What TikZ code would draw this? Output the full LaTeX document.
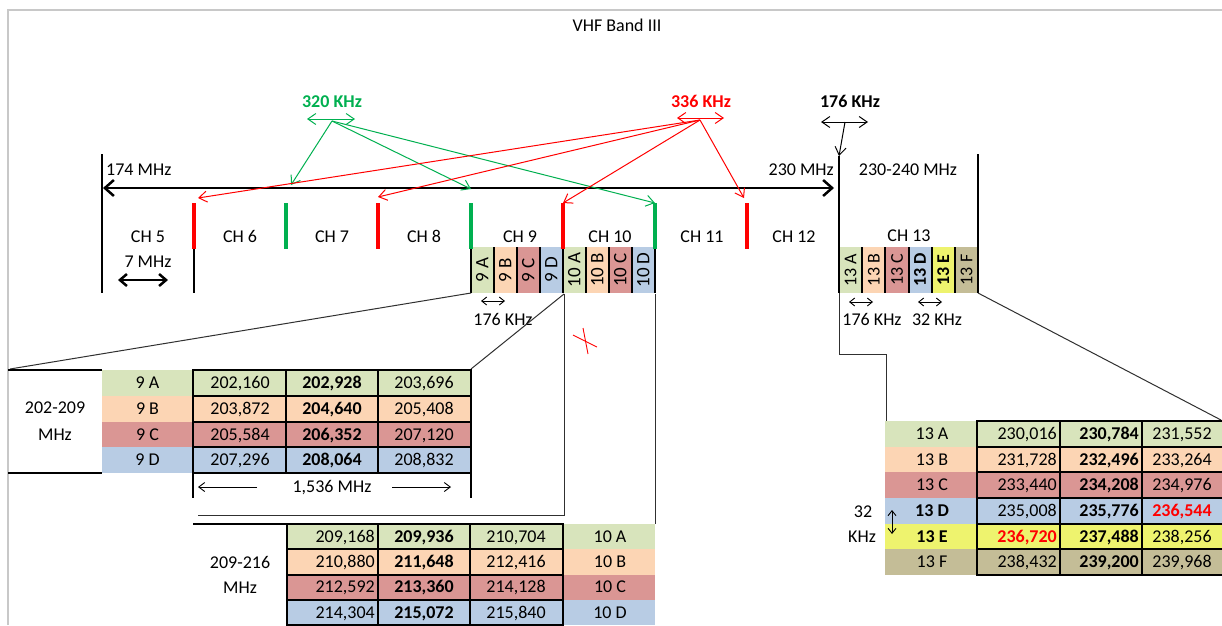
\documentclass[tikz,border=0pt]{standalone}
\usepackage{fontspec}
\setmainfont{Carlito}
\usetikzlibrary{arrows.meta}
\definecolor{cA}{HTML}{D8E4BC}
\definecolor{cB}{HTML}{FCD5B4}
\definecolor{cC}{HTML}{DA9694}
\definecolor{cD}{HTML}{B8CCE4}
\definecolor{cE}{HTML}{EEF36E}
\definecolor{cF}{HTML}{C4BD97}
\definecolor{xgreen}{HTML}{00B050}
\definecolor{xred}{HTML}{FF0000}
\definecolor{framegray}{HTML}{C8C8C8}
\definecolor{linegray}{HTML}{303030}
\tikzset{
  txt/.style={font=\fontsize{18}{21}\selectfont, inner sep=0pt, text height=11.6pt, text depth=0pt},
  rtxt/.style={txt, font=\fontsize{19}{22}\selectfont, rotate=90},
  bigaxis/.style={line width=2.5pt, {Straight Barb[length=9pt,width=16pt]}-{Straight Barb[length=9pt,width=16pt]}},
  thinarr/.style={line width=1pt, -{Straight Barb[length=8pt,width=11pt]}},
  thindbl/.style={line width=1pt, {Straight Barb[length=8pt,width=11pt]}-{Straight Barb[length=8pt,width=11pt]}},
  smalldbl/.style={line width=0.9pt, {Straight Barb[length=5pt,width=8pt]}-{Straight Barb[length=5pt,width=8pt]}},
  smallarr/.style={line width=0.9pt, -{Straight Barb[length=6pt,width=9pt]}},
  chbar/.style={line width=4pt},
  sepline/.style={line width=2pt},
  bandline/.style={line width=2.5pt},
  conn/.style={line width=1pt, linegray},
  cell/.style={draw=black, line width=2pt},
}
\begin{document}
\begin{tikzpicture}[x=1pt,y=-1pt]
\useasboundingbox (0,0) rectangle (1222,625);
\fill[white] (0,0) rectangle (1222,625);
% frame
\draw[framegray, line width=2pt] (8,625) -- (8,10) -- (1222,10);
\node[txt] (title) at (617,26) {VHF Band III};

% colored sub-channel cells (9, 10)
\foreach \k/\cc/\lab in {0/cA/9 A,1/cB/9 B,2/cC/9 C,3/cD/9 D}{
  \fill[\cc] (471+23*\k,247) rectangle (494+23*\k,293);
  \node[rtxt] (s9\k) at (482.5+23*\k,270) {\lab};
}
\foreach \k/\cc/\lab in {0/cA/10 A,1/cB/10 B,2/cC/10 C,3/cD/10 D}{
  \fill[\cc] (563+23*\k,247) rectangle (586+23*\k,293);
  \node[rtxt] (s10\k) at (574.5+23*\k,270) {\lab};
}
\foreach \k/\cc/\lab in {0/cA/13 A,1/cB/13 B,2/cC/13 C,3/cD/{\bfseries 13 D},4/cE/{\bfseries 13 E},5/cF/13 F}{
  \fill[\cc] (839+23.17*\k,247) rectangle (862.17+23.17*\k,293);
  \node[rtxt, font=\fontsize{18}{21}\selectfont] (s13\k) at (850.6+23.17*\k,270) {\lab};
}
\foreach \xx in {494,517,540,563,586,609,632}{
  \draw[sepline] (\xx,247) -- (\xx,293);
}
\foreach \xx in {862.2,885.3,908.5,931.7,954.8}{
  \draw[sepline] (\xx,247) -- (\xx,293);
}
\draw[sepline] (471,247) -- (471,293);
\draw[sepline] (655,247) -- (655,293);
\draw[sepline] (194,249) -- (194,293);

% band lines
\draw[bandline] (102,154) -- (102,293);
\draw[bandline] (839,156) -- (839,293);
\draw[bandline] (978,154) -- (978,293);

% channel boundary bars
\foreach \xx in {194,378,563,747}{ \draw[chbar, xred] (\xx,203) -- (\xx,249); }
\foreach \xx in {286,471,655}{ \draw[chbar, xgreen] (\xx,203) -- (\xx,249); }

% main axis
\coordinate (axL) at (103,188);
\coordinate (axR) at (834,188);
\draw[bigaxis] (axL) -- (axR);
\node[txt, anchor=west] (f174) at (106,170) {174 MHz};
\node[txt, anchor=east] (f230) at (834,170) {230 MHz};
\node[txt] (f240) at (908,170) {230-240 MHz};

% channel labels
\node[txt] (ch5) at (148,237) {CH 5};
\node[txt] (ch6) at (240,237) {CH 6};
\node[txt] (ch7) at (332,237) {CH 7};
\node[txt] (ch8) at (424,237) {CH 8};
\node[txt] (ch9) at (520,237) {CH 9};
\node[txt] (ch10) at (610,237) {CH 10};
\node[txt] (ch11) at (702,237) {CH 11};
\node[txt] (ch12) at (794,237) {CH 12};
\node[txt] (ch13) at (909,236) {CH 13};

% 7 MHz
\node[txt] (w7) at (148,262) {7 MHz};
\coordinate (w7a) at (118,280);
\coordinate (w7b) at (168,280);
\draw[line width=2.5pt, {Straight Barb[length=7pt,width=12pt]}-{Straight Barb[length=7pt,width=12pt]}] (w7a) -- (w7b);

% 320 KHz (green)
\node[txt, font=\fontsize{18}{21}\selectfont\bfseries, text=xgreen] (g320) at (332,102) {320 KHz};
\coordinate (g1) at (307,119);
\coordinate (g2) at (355,119);
\draw[thindbl, xgreen] (g1) -- (g2);
\coordinate (g0) at (332,121);
\coordinate (gt1) at (291,185);
\coordinate (gt2) at (471,189);
\coordinate (gt3) at (655,203);
\draw[thinarr, xgreen] (g0) -- (gt1);
\draw[thinarr, xgreen] (g0) -- (gt2);
\draw[thinarr, xgreen] (g0) -- (gt3);

% 336 KHz (red)
\node[txt, font=\fontsize{18}{21}\selectfont\bfseries, text=xred] (r336) at (701,102) {336 KHz};
\coordinate (r1) at (677,118);
\coordinate (r2) at (724,118);
\draw[thindbl, xred] (r1) -- (r2);
\coordinate (r0) at (700,120);
\coordinate (rt1) at (198,198);
\coordinate (rt2) at (378,197);
\coordinate (rt3) at (563,203);
\coordinate (rt4) at (744,198);
\draw[thinarr, xred] (r0) -- (rt1);
\draw[thinarr, xred] (r0) -- (rt2);
\draw[thinarr, xred] (r0) -- (rt3);
\draw[thinarr, xred] (r0) -- (rt4);

% 176 KHz top
\node[txt, font=\fontsize{18}{21}\selectfont\bfseries] (k176) at (850,102) {176 KHz};
\coordinate (k1) at (821,122);
\coordinate (k2) at (868,122);
\draw[thindbl] (k1) -- (k2);
\coordinate (k0) at (845,122);
\coordinate (kt) at (839,156);
\draw[thinarr] (k0) -- (kt);

% small spacing marks
\coordinate (a1) at (481,301);
\coordinate (a2) at (505,301);
\draw[smalldbl] (a1) -- (a2);
\node[txt] (k176b) at (503,320) {176 KHz};
\coordinate (b1) at (849,302);
\coordinate (b2) at (873,302);
\draw[smalldbl] (b1) -- (b2);
\node[txt] (k176c) at (872,320) {176 KHz};
\coordinate (c1) at (918,302);
\coordinate (c2) at (942,302);
\draw[smalldbl] (c1) -- (c2);
\node[txt] (k32) at (937,320) {32 KHz};

% red X
\coordinate (x1) at (573,335);
\coordinate (x2) at (597,347);
\coordinate (x3) at (583,328);
\coordinate (x4) at (588,354);
\draw[xred, line width=0.9pt] (x1) -- (x2);
\draw[xred, line width=0.9pt] (x3) -- (x4);

% connectors
\coordinate (p9a) at (471,293);
\coordinate (p9d) at (564,294);
\coordinate (p10d) at (655,294);
\coordinate (q9L) at (10,369);
\coordinate (q9R) at (471,369);
\coordinate (q10a) at (564,515);
\coordinate (q10b) at (198,515);
\coordinate (q10c) at (655,524);
\draw[conn] (p9a) -- (q9L);
\draw[conn] (p9d) -- (q9R);
\draw[conn] (p9d) -- (q10a) -- (q10b);
\draw[conn] (p10d) -- (q10c);
\coordinate (p13a) at (839,293);
\coordinate (p13f) at (978,293);
\coordinate (q13a) at (839,354);
\coordinate (q13b) at (886,354);
\coordinate (q13c) at (886,421);
\coordinate (q13d) at (1221,420);
\draw[conn] (p13a) -- (q13a) -- (q13b) -- (q13c);
\draw[conn] (p13f) -- (q13d);

% ---------- table 9 ----------
\foreach \i/\cc/\lab/\va/\vb/\vc in {0/cA/9 A/{202,160}/{202,928}/{203,696},1/cB/9 B/{203,872}/{204,640}/{205,408},2/cC/9 C/{205,584}/{206,352}/{207,120},3/cD/9 D/{207,296}/{208,064}/{208,832}}{
  \pgfmathsetmacro\yt{370+25.75*\i}
  \pgfmathsetmacro\yb{370+25.75*(\i+1)}
  \pgfmathsetmacro\yc{370+25.75*(\i+0.5)}
  \fill[\cc] (102,\yt) rectangle (193,\yb);
  \draw[cell, fill=\cc] (193,\yt) rectangle (286,\yb);
  \draw[cell, fill=\cc] (286,\yt) rectangle (378,\yb);
  \draw[cell, fill=\cc] (378,\yt) rectangle (471,\yb);
  \node[txt] (t9l\i) at (147.5,\yc) {\lab};
  \node[txt] (t9a\i) at (240,\yc) {\va};
  \node[txt, font=\fontsize{18}{21}\selectfont\bfseries] (t9b\i) at (332,\yc) {\vb};
  \node[txt] (t9c\i) at (424,\yc) {\vc};
}
\draw[line width=2pt] (8,370) -- (102,370);
\draw[line width=2pt] (8,473) -- (102,473);
\node[txt] (m9a) at (55,408) {202-209};
\node[txt] (m9b) at (55,435) {MHz};
\draw[line width=2pt] (193,473) -- (193,498);
\draw[line width=2pt] (471,473) -- (471,498);
\node[txt] (w1536) at (332,487) {1,536 MHz};
\coordinate (d1) at (257,487);
\coordinate (d2) at (198,487);
\coordinate (d3) at (392,487);
\coordinate (d4) at (451,487);
\draw[smallarr] (d1) -- (d2);
\draw[smallarr] (d3) -- (d4);

% ---------- table 10 ----------
\foreach \i/\cc/\lab/\va/\vb/\vc in {0/cA/10 A/{209,168}/{209,936}/{210,704},1/cB/10 B/{210,880}/{211,648}/{212,416},2/cC/10 C/{212,592}/{213,360}/{214,128},3/cD/10 D/{214,304}/{215,072}/{215,840}}{
  \pgfmathsetmacro\yt{524+25.25*\i}
  \pgfmathsetmacro\yb{524+25.25*(\i+1)}
  \pgfmathsetmacro\yc{524+25.25*(\i+0.5)}
  \fill[\cc] (563,\yt) rectangle (655,\yb);
  \draw[cell, fill=\cc] (287,\yt) rectangle (378,\yb);
  \draw[cell, fill=\cc] (378,\yt) rectangle (470,\yb);
  \draw[cell, fill=\cc] (470,\yt) rectangle (563,\yb);
  \node[txt, anchor=east] (t10a\i) at (375,\yc) {\va};
  \node[txt, font=\fontsize{18}{21}\selectfont\bfseries] (t10b\i) at (424,\yc) {\vb};
  \node[txt] (t10c\i) at (516,\yc) {\vc};
  \node[txt] (t10l\i) at (610,\yc) {\lab};
}
\draw[line width=2pt] (193,524) -- (563,524);
\node[txt] (m10a) at (240,563) {209-216};
\node[txt] (m10b) at (240,588) {MHz};

% ---------- table 13 ----------
\foreach \i/\cc/\lab/\va/\vb/\vc in {0/cA/{13 A}/{230,016}/{230,784}/{231,552},1/cB/{13 B}/{231,728}/{232,496}/{233,264},2/cC/{13 C}/{233,440}/{234,208}/{234,976},3/cD/{\bfseries 13 D}/{235,008}/{235,776}/{\color{xred}\bfseries 236,544},4/cE/{\bfseries 13 E}/{\color{xred}\bfseries 236,720}/{237,488}/{238,256},5/cF/{13 F}/{238,432}/{239,200}/{239,968}}{
  \pgfmathsetmacro\yt{421+25.67*\i}
  \pgfmathsetmacro\yb{421+25.67*(\i+1)}
  \pgfmathsetmacro\yc{421+25.67*(\i+0.5)}
  \fill[\cc] (885,\yt) rectangle (977,\yb);
  \draw[cell, fill=\cc] (977,\yt) rectangle (1060,\yb);
  \draw[cell, fill=\cc] (1060,\yt) rectangle (1142,\yb);
  \draw[cell, fill=\cc] (1142,\yt) rectangle (1224,\yb);
  \node[txt] (t13l\i) at (932,\yc) {\lab};
  \node[txt, anchor=east] (t13a\i) at (1057,\yc) {\va};
  \node[txt, font=\fontsize{18}{21}\selectfont\bfseries, anchor=east] (t13b\i) at (1139,\yc) {\vb};
  \node[txt] (t13c\i) at (1182,\yc) {\vc};
}
\node[txt] (m13a) at (863,512) {32};
\node[txt] (m13b) at (862,537) {KHz};
\coordinate (e1) at (892,510);
\coordinate (e2) at (892,534);
\draw[smalldbl] (e1) -- (e2);
\end{tikzpicture}
\end{document}
